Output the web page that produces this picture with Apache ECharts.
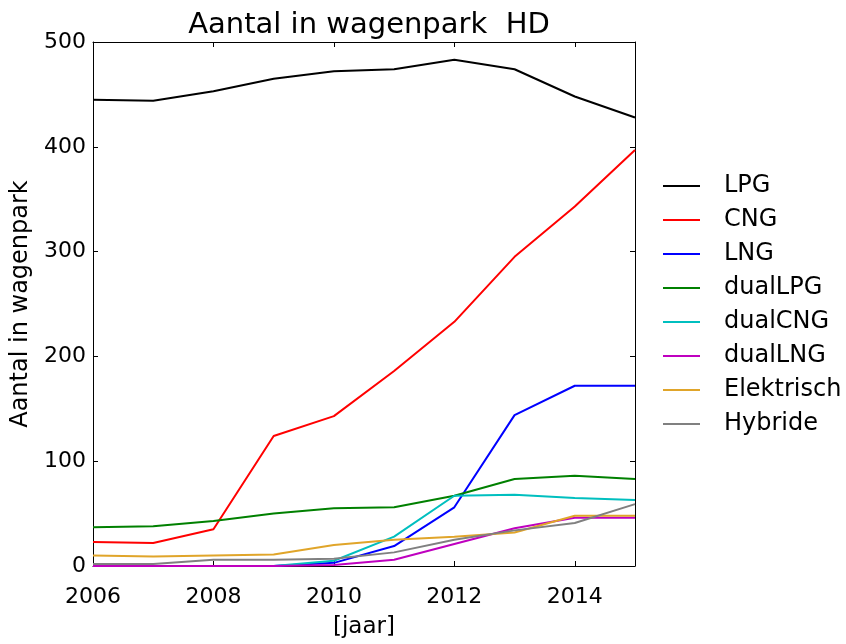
<!DOCTYPE html>
<html>
<head>
<meta charset="utf-8">
<script src="https://cdn.jsdelivr.net/npm/echarts@6/dist/echarts.min.js"></script>
<style>
  html, body { margin: 0; padding: 0; background: #fff; }
  #chart { width: 846px; height: 644px; }
</style>
</head>
<body>
<div id="chart"></div>
<script>
var years = [2006, 2007, 2008, 2009, 2010, 2011, 2012, 2013, 2014, 2015];

var lpg       = [445, 444, 453, 465, 472, 474, 483, 474, 448, 428];
var cng       = [23, 22, 35, 124, 143, 186, 233, 295, 343, 397];
var lng       = [0, 0, 0, 0, 3, 19, 56, 144, 172, 172];
var dualLpg   = [37, 38, 43, 50, 55, 56, 67, 83, 86, 83];
var dualCng   = [0, 0, 0, 0, 5, 28, 67, 68, 65, 63];
var dualLng   = [0, 0, 0, 0, 1, 6, 21, 36, 46, 46];
var elektrisch = [10, 9, 10, 11, 20, 25, 28, 32, 48, 48];
var hybride   = [2, 2, 6, 6, 7, 13, 25, 34, 41, 59];

var names  = ['LPG', 'CNG', 'LNG', 'dualLPG', 'dualCNG', 'dualLNG', 'Elektrisch', 'Hybride'];
var values = [lpg, cng, lng, dualLpg, dualCng, dualLng, elektrisch, hybride];
var colors = ['#000000', '#ff0000', '#0000ff', '#008000', '#00bfbf', '#bf00bf', '#e0a52a', '#808080'];

var font = 'DejaVu Sans';

function pairs(arr) {
    return years.map(function (y, i) { return [y, arr[i]]; });
}

var chart = echarts.init(document.getElementById('chart'));

var axisLine = { show: true, onZero: false, lineStyle: { color: '#000', width: 1 } };
var tick = { show: true, inside: true, length: 5, lineStyle: { color: '#000' } };

chart.setOption({
    animation: false,
    color: colors,
    title: {
        text: 'Aantal in wagenpark  HD',
        left: 364,
        textAlign: 'center',
        top: 6,
        textStyle: { fontFamily: font, fontSize: 29, fontWeight: 'normal', color: '#000' }
    },
    legend: {
        orient: 'vertical',
        left: 658,
        top: 168,
        icon: 'rect',
        itemWidth: 37,
        itemHeight: 2,
        itemGap: 8,
        data: names,
        textStyle: { fontFamily: font, fontSize: 24, color: '#000', lineHeight: 26, padding: [0, 0, 0, 19] }
    },
    grid: { left: 93, right: 211, top: 42, bottom: 78 },
    xAxis: [{
        type: 'value',
        min: 2006, max: 2015, interval: 2,
        name: '[jaar]',
        nameLocation: 'middle',
        nameGap: 50,
        nameTextStyle: { fontFamily: font, fontSize: 23, color: '#000' },
        axisLine: axisLine,
        axisTick: tick,
        splitLine: { show: false },
        axisLabel: {
            fontFamily: font, fontSize: 22, color: '#000', margin: 20,
            formatter: function (v) { return v % 2 ? '' : String(v); }
        }
    }, {
        type: 'value', position: 'top',
        min: 2006, max: 2015, interval: 2,
        axisLine: axisLine, axisTick: tick,
        axisLabel: { show: false }, splitLine: { show: false }
    }],
    yAxis: [{
        type: 'value',
        min: 0, max: 500, interval: 100,
        name: 'Aantal in wagenpark',
        nameLocation: 'middle',
        nameGap: 54,
        nameTextStyle: { fontFamily: font, fontSize: 24, color: '#000' },
        axisLine: axisLine,
        axisTick: tick,
        splitLine: { show: false },
        axisLabel: { fontFamily: font, fontSize: 22, color: '#000', margin: 7 }
    }, {
        type: 'value', position: 'right',
        min: 0, max: 500, interval: 100,
        axisLine: axisLine, axisTick: tick,
        axisLabel: { show: false }, splitLine: { show: false }
    }],
    series: names.map(function (n, i) {
        return {
            name: n,
            type: 'line',
            data: pairs(values[i]),
            symbol: 'none',
            lineStyle: { width: 2, color: colors[i] },
            itemStyle: { color: colors[i] }
        };
    })
});
</script>
</body>
</html>
